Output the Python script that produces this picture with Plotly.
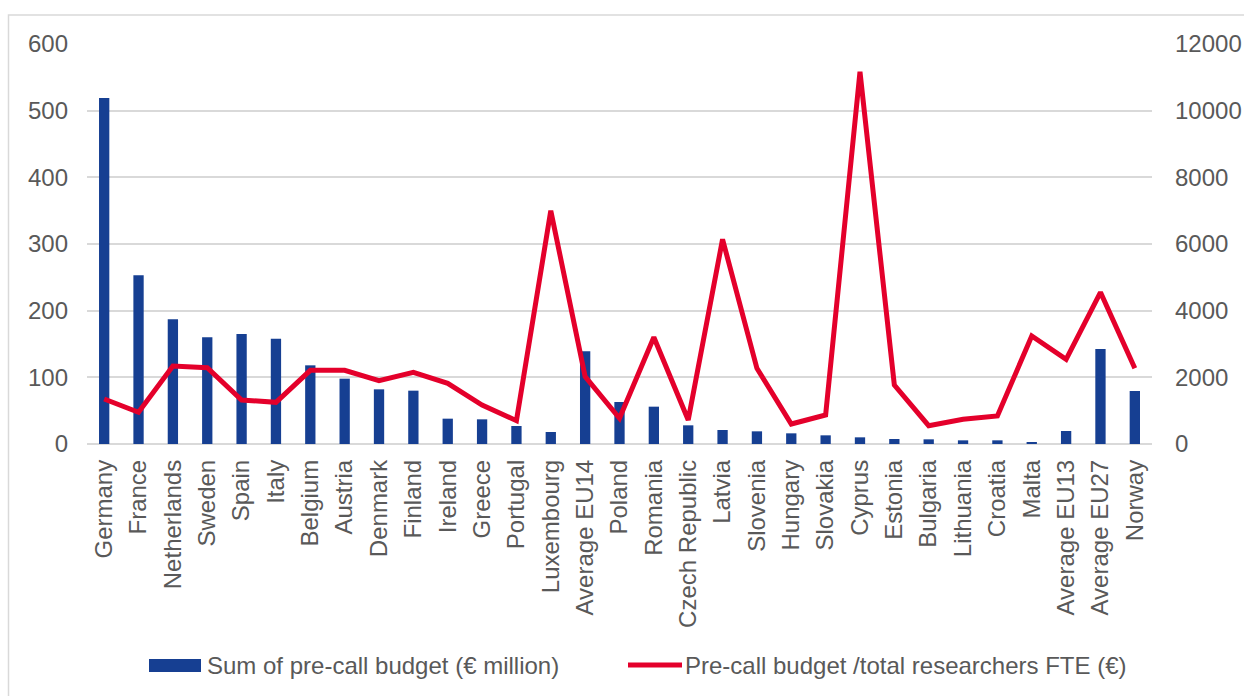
import plotly.graph_objects as go

categories = ["Germany", "France", "Netherlands", "Sweden", "Spain", "Italy", "Belgium",
              "Austria", "Denmark", "Finland", "Ireland", "Greece", "Portugal", "Luxembourg",
              "Average EU14", "Poland", "Romania", "Czech Republic", "Latvia", "Slovenia",
              "Hungary", "Slovakia", "Cyprus", "Estonia", "Bulgaria", "Lithuania", "Croatia",
              "Malta", "Average EU13", "Average EU27", "Norway"]
budget_million = [519, 253, 187, 160, 165, 158, 118, 98, 82, 80, 38, 37, 27, 18,
                  139, 63, 56, 28, 21, 19, 16, 13, 10, 7.5, 7, 5.5, 5.5, 2.5, 19.5, 142.5, 79.5]
budget_per_fte = [1350, 950, 2340, 2290, 1320, 1250, 2210, 2210, 1900, 2150, 1820, 1170, 700, 7000,
                  2020, 770, 3200, 720, 6140, 2270, 600, 870, 11170, 1770, 550, 740, 840, 3240,
                  2540, 4550, 2270]

left_ticks = [0, 100, 200, 300, 400, 500, 600]
right_ticks = [0, 2000, 4000, 6000, 8000, 10000, 12000]
right_tick_labels = ["0", "2000", "4000", "6000", "8000", "10000", "12000"]

bar_name = "Sum of pre-call budget (€ million)"
line_name = "Pre-call budget /total researchers FTE (€)"

BLUE = "#163f92"
RED = "#e4002b"
GRAY = "#595959"
FONT = "Liberation Sans, Arial, sans-serif"
FS = 24

fig = go.Figure()
fig.add_trace(go.Bar(x=categories, y=budget_million, name=bar_name,
                     marker=dict(color=BLUE, line=dict(width=0)), yaxis="y",
                     showlegend=False))
fig.add_trace(go.Scatter(x=categories, y=budget_per_fte, name=line_name, mode="lines",
                         line=dict(color=RED, width=5), yaxis="y2", showlegend=False))

W, H = 1244, 696
L, R, T, B = 87, 1152, 44, 444
pw, ph = R - L, B - T

def px(x):
    return (x - L) / pw

def py(y):
    return (B - y) / ph

fig.update_layout(
    width=W, height=H,
    margin=dict(l=L, r=W - R, t=T, b=H - B, autoexpand=False),
    paper_bgcolor="white", plot_bgcolor="white",
    font=dict(family=FONT, size=FS, color=GRAY),
    bargap=0.7,
    xaxis=dict(tickangle=-90, showgrid=False, showline=False, ticks="", automargin=False,
               ticklabelstandoff=10, tickfont=dict(size=FS, color=GRAY)),
    yaxis=dict(range=[0, 600], tickvals=left_ticks, showgrid=True, gridcolor="#d9d9d9",
               gridwidth=1.5, zeroline=True, zerolinecolor="#d9d9d9", zerolinewidth=1.5,
               showline=False, ticks="", ticklabelstandoff=18, automargin=False,
               tickfont=dict(size=FS, color=GRAY)),
    yaxis2=dict(range=[0, 12000], tickvals=right_ticks, ticktext=right_tick_labels,
                overlaying="y", side="right", automargin=False,
                showgrid=False, zeroline=False, showline=False, ticks="",
                ticklabelstandoff=22, tickfont=dict(size=FS, color=GRAY)),
    showlegend=False,
)

shapes = [
    # chart border (top and left visible)
    dict(type="rect", xref="paper", yref="paper", x0=px(8.5), x1=px(1260), y0=py(720), y1=py(15),
         line=dict(color="#d9d9d9", width=1.5), fillcolor="rgba(0,0,0,0)", layer="below"),
    # manual legend symbols
    dict(type="rect", xref="paper", yref="paper", x0=px(149), x1=px(201), y0=py(672), y1=py(659),
         line=dict(width=0), fillcolor=BLUE),
    dict(type="line", xref="paper", yref="paper", x0=px(628), x1=px(682), y0=py(665), y1=py(665),
         line=dict(color=RED, width=5)),
]
annotations = [
    dict(text=bar_name, xref="paper", yref="paper", x=px(205), y=py(665), xanchor="left",
         yanchor="middle", showarrow=False, font=dict(size=FS, color=GRAY, family=FONT)),
    dict(text=line_name, xref="paper", yref="paper", x=px(683), y=py(665), xanchor="left",
         yanchor="middle", showarrow=False, font=dict(size=FS, color=GRAY, family=FONT)),
]
fig.update_layout(shapes=shapes, annotations=annotations)

fig.write_html("out.html")
